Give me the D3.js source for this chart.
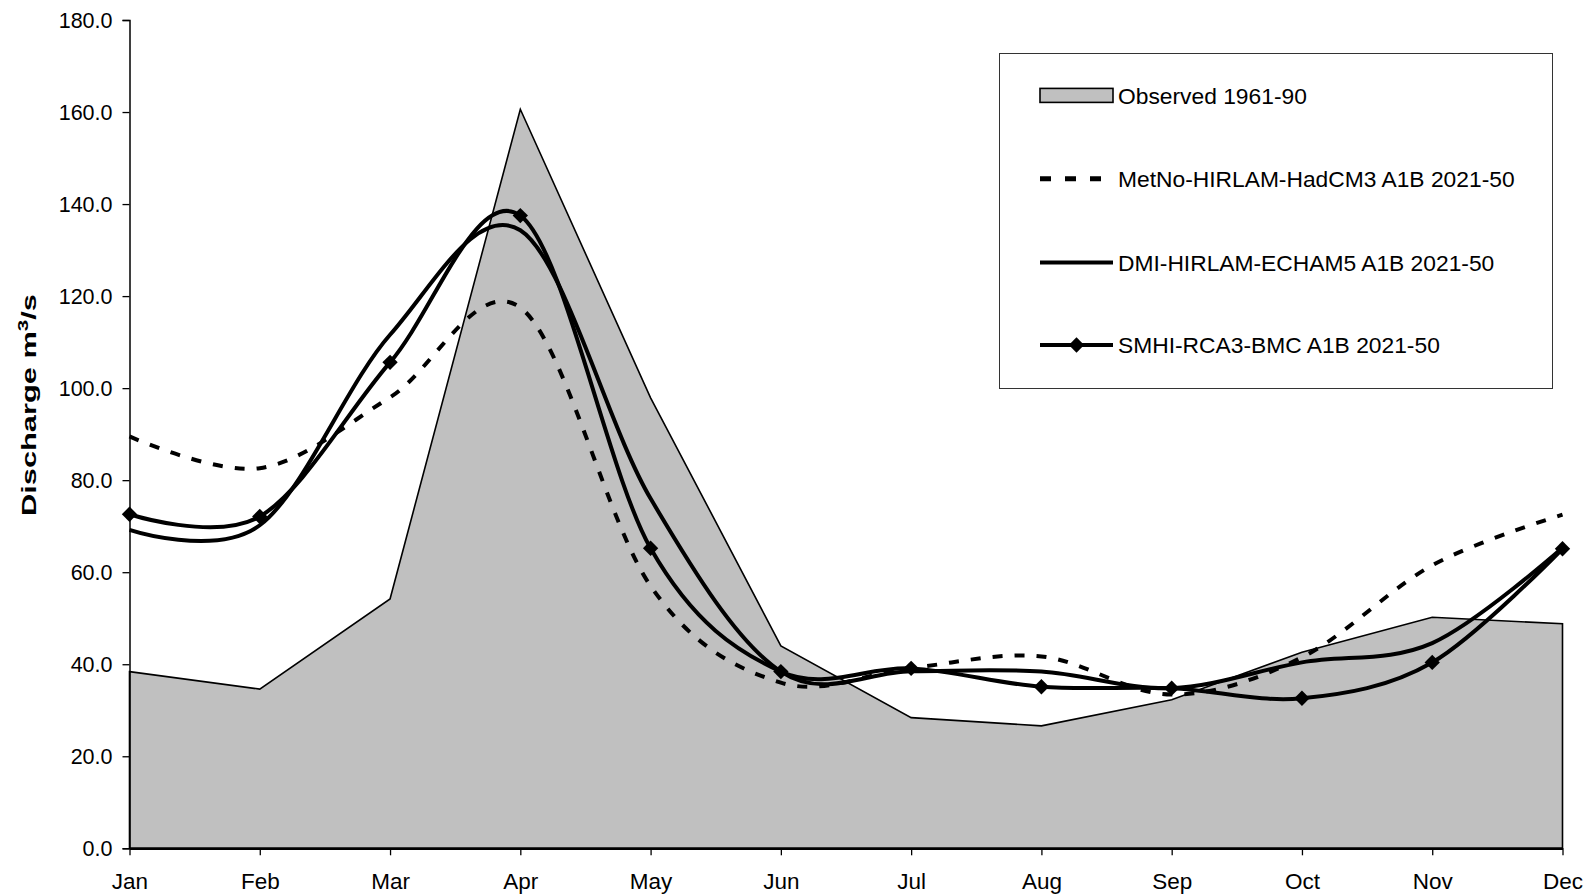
<html>
    <head>
        <title>Discharge</title>
        <script language="javascript" type="text/javascript"
                src="https://d3js.org/d3.v7.min.js"></script>
        <style>
            body { margin: 0; background: white; }
            text { font-family: "Liberation Sans", Arial, sans-serif; fill: #000; }
        </style>
    </head>
    <body>
        <div id="chart"></div>
    </body>
</html>

<script type="text/javascript">

    // data
    var months = ["Jan", "Feb", "Mar", "Apr", "May", "Jun", "Jul", "Aug", "Sep", "Oct", "Nov", "Dec"];
    var observed = [38.4, 34.6, 54.2, 160.6, 97.9, 44.0, 28.4, 26.6, 32.3, 42.6, 50.2, 48.8];
    var metno    = [89.5, 82.6, 98.0, 117.5, 57.0, 36.0, 39.2, 41.7, 33.4, 41.5, 61.5, 72.5];
    var dmi      = [69.2, 70.2, 111.6, 134.3, 76.0, 38.4, 38.5, 38.4, 34.8, 40.4, 44.6, 65.3];
    var smhi     = [72.6, 72.1, 105.6, 137.5, 65.2, 38.4, 39.1, 35.1, 34.8, 32.6, 40.4, 65.1];
    var yTicks   = [0, 20, 40, 60, 80, 100, 120, 140, 160, 180];
    var legendLabels = ["Observed 1961-90", "MetNo-HIRLAM-HadCM3 A1B 2021-50",
                        "DMI-HIRLAM-ECHAM5 A1B 2021-50", "SMHI-RCA3-BMC A1B 2021-50"];

    var width = 1592, height = 896;

    var svg = d3.select("#chart")
        .append("svg")
        .attr("width", width)
        .attr("height", height)
        .style("background", "white");

    // scales
    var x = d3.scalePoint()
        .domain(months)
        .range([129.5, 1562.5]);

    var y = d3.scaleLinear()
        .domain([0, 180])
        .range([848.3, 20]);

    var idx = d3.range(months.length);

    // observed area
    svg.append("path")
        .datum(idx)
        .attr("fill", "#c0c0c0")
        .attr("stroke", "#000")
        .attr("stroke-width", 1.6)
        .attr("d", d3.area()
              .x(function(i) { return x(months[i]); })
              .y0(y(0))
              .y1(function(i) { return y(observed[i]); }));

    // axes
    var yAxis = svg.append("g")
        .attr("transform", "translate(" + x(months[0]) + ",0)")
        .call(d3.axisLeft(y).tickValues(yTicks).tickSize(7).tickPadding(10)
              .tickFormat(d3.format(".1f")));
    yAxis.selectAll("text").style("font-size", "21.5px").attr("dy", "0.35em");
    yAxis.select(".domain").attr("stroke-width", 1.5);
    yAxis.selectAll(".tick line").attr("stroke-width", 1.3);

    var xAxis = svg.append("g")
        .attr("transform", "translate(0," + y(0) + ")")
        .call(d3.axisBottom(x).tickSize(7).tickSizeOuter(0).tickPadding(18));
    xAxis.selectAll("text").style("font-size", "22.5px");
    xAxis.select(".domain").attr("stroke-width", 2.5);
    xAxis.selectAll(".tick line").attr("stroke-width", 1.3);

    // y axis title
    var title = svg.append("text")
        .attr("transform", "translate(36," + 405 + ") rotate(-90)")
        .attr("textLength", 222)
        .attr("lengthAdjust", "spacingAndGlyphs")
        .style("text-anchor", "middle")
        .style("font-size", "21px")
        .style("font-weight", "bold");
    title.append("tspan").text("Discharge m");
    title.append("tspan").attr("dy", -8).style("font-size", "14px").text("3");
    title.append("tspan").attr("dy", 8).text("/s");

    // smoothed lines
    var line = function(vals) {
        return d3.line()
            .x(function(i) { return x(months[i]); })
            .y(function(i) { return y(vals[i]); })
            .curve(d3.curveCardinal.tension(0))(idx);
    };

    svg.append("path")
        .attr("d", line(metno))
        .attr("fill", "none")
        .attr("stroke", "#000")
        .attr("stroke-width", 4)
        .attr("stroke-dasharray", "10,12");

    svg.append("path")
        .attr("d", line(dmi))
        .attr("fill", "none")
        .attr("stroke", "#000")
        .attr("stroke-width", 4);

    svg.append("path")
        .attr("d", line(smhi))
        .attr("fill", "none")
        .attr("stroke", "#000")
        .attr("stroke-width", 4);

    var diamond = d3.symbol().type(d3.symbolDiamond2).size(150);

    svg.append("g")
        .selectAll("path")
        .data(idx)
        .enter()
        .append("path")
            .attr("d", diamond)
            .attr("transform", function(i) { return "translate(" + x(months[i]) + "," + y(smhi[i]) + ")"; })
            .attr("fill", "#000");

    // legend
    var legend = svg.append("g");
    legend.append("rect")
        .attr("x", 999.5).attr("y", 53.5)
        .attr("width", 553).attr("height", 335)
        .attr("fill", "white")
        .attr("stroke", "#333")
        .attr("stroke-width", 1);

    var rowY = [95.4, 178.7, 262.5, 345];
    var sx0 = 1040, sx1 = 1113;

    legend.append("rect")
        .attr("x", sx0).attr("y", rowY[0] - 7)
        .attr("width", sx1 - sx0).attr("height", 14)
        .attr("fill", "#c0c0c0")
        .attr("stroke", "#000")
        .attr("stroke-width", 1.6);

    legend.append("line")
        .attr("x1", sx0).attr("x2", sx1)
        .attr("y1", rowY[1]).attr("y2", rowY[1])
        .attr("stroke", "#000").attr("stroke-width", 5)
        .attr("stroke-dasharray", "11,14");

    legend.append("line")
        .attr("x1", sx0).attr("x2", sx1)
        .attr("y1", rowY[2]).attr("y2", rowY[2])
        .attr("stroke", "#000").attr("stroke-width", 4);

    legend.append("line")
        .attr("x1", sx0).attr("x2", sx1)
        .attr("y1", rowY[3]).attr("y2", rowY[3])
        .attr("stroke", "#000").attr("stroke-width", 4);

    legend.append("path")
        .attr("d", diamond)
        .attr("transform", "translate(" + ((sx0 + sx1) / 2) + "," + rowY[3] + ")")
        .attr("fill", "#000");

    legend.selectAll("text.lbl")
        .data(legendLabels)
        .enter()
        .append("text")
            .attr("class", "lbl")
            .attr("x", 1118)
            .attr("y", function(d, i) { return rowY[i]; })
            .attr("dy", "0.36em")
            .style("font-size", "22.8px")
            .text(function(d) { return d; });

</script>
